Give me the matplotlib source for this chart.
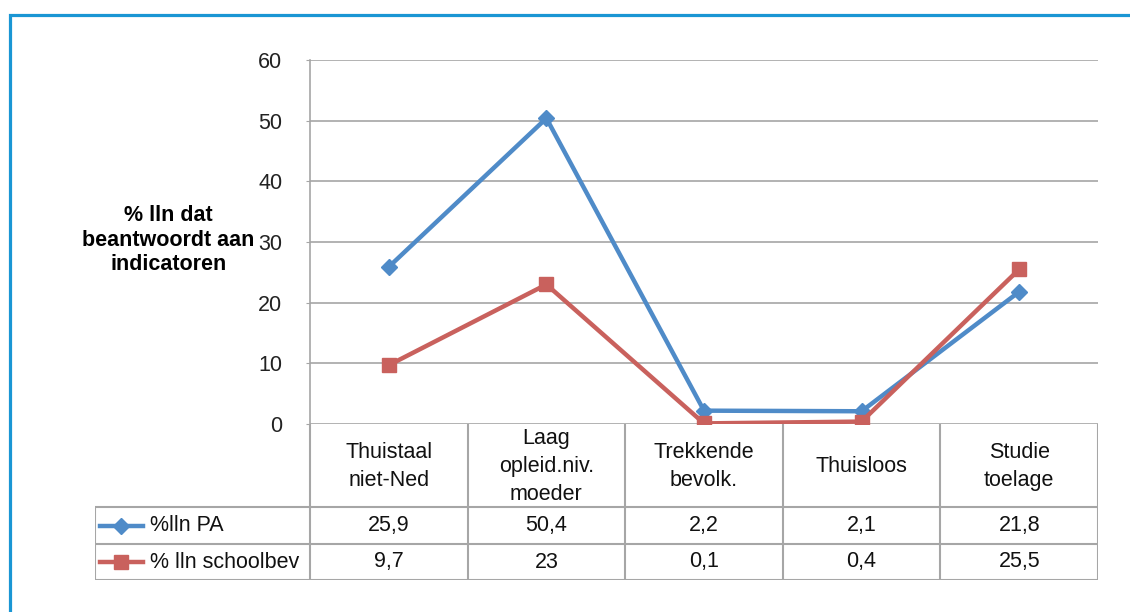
import matplotlib.pyplot as plt
from matplotlib.patches import Rectangle
from matplotlib.lines import Line2D

plt.rcParams['font.family'] = ['Liberation Sans', 'DejaVu Sans']

categories = ["Thuistaal\nniet-Ned", "Laag\nopleid.niv.\nmoeder", "Trekkende\nbevolk.",
              "Thuisloos", "Studie\ntoelage"]
series_names = ["%lln PA", "% lln schoolbev"]
pa_values = [25.9, 50.4, 2.2, 2.1, 21.8]
school_values = [9.7, 23, 0.1, 0.4, 25.5]
value_labels = [["25,9", "50,4", "2,2", "2,1", "21,8"],
                ["9,7", "23", "0,1", "0,4", "25,5"]]
y_ticks = [0, 10, 20, 30, 40, 50, 60]

W, H = 1130, 612
blue = '#4f8bc8'
red = '#c9615d'
grey = '#a6a6a6'
fs = 15.5


def px_axes(fig, left, top, right, bottom):
    return fig.add_axes([left / W, 1 - bottom / H, (right - left) / W, (bottom - top) / H])


fig = plt.figure(figsize=(W / 100, H / 100), dpi=100)

# frame of the slide
fig.patches.append(Rectangle((9.5 / W, -0.1), 1.2, 1 - 14.5 / H + 0.1, transform=fig.transFigure,
                             fill=False, edgecolor='#1a96d4', lw=2.3))

ax = px_axes(fig, 310, 60, 1098, 424)
x = list(range(len(categories)))
ax.plot(x, pa_values, color=blue, lw=3.2, marker='D', ms=8.5, zorder=3)
ax.plot(x, school_values, color=red, lw=3.2, marker='s', ms=10, zorder=4)
ax.set_xlim(-0.5, len(categories) - 0.5)
ax.set_ylim(0, 60)
ax.set_yticks(y_ticks)
ax.set_xticks([])
ax.yaxis.grid(True, color=grey, lw=1.2)
ax.set_axisbelow(True)
for s in ['top', 'right', 'bottom']:
    ax.spines[s].set_visible(False)
ax.spines['left'].set_color(grey)
ax.spines['left'].set_linewidth(1.2)
ax.tick_params(axis='y', length=3, color=grey, labelsize=fs, pad=17, labelcolor='#222222')
for lab in ax.get_yticklabels():
    lab.set_clip_on(False)
ax.text(-0.180, 0.505, "% lln dat\nbeantwoordt aan\nindicatoren", transform=ax.transAxes,
        ha='center', va='center', fontsize=fs, fontweight='bold', linespacing=1.22)

# data table below the plot
cat_px = 788 / len(categories)
tab = px_axes(fig, 95, 424, 1098, 580)
x0 = -0.5 - 215 / cat_px
tab.set_xlim(x0, len(categories) - 0.5)
tab.set_ylim(0, 156)
tab.axis('off')
row_bounds = [0, 36, 73]
head_y = 156
lk = dict(color=grey, lw=1.5, solid_capstyle='butt')
# header row verticals
for i in range(len(categories) + 1):
    tab.plot([i - 0.5, i - 0.5], [row_bounds[2], head_y], **lk)
# data row lines
for yb in row_bounds:
    tab.plot([x0, len(categories) - 0.5], [yb, yb], **lk)
for xv in [x0] + [i - 0.5 for i in range(len(categories) + 1)]:
    tab.plot([xv, xv], [0, row_bounds[2]], **lk)

for i, c in enumerate(categories):
    tab.text(i, (row_bounds[2] + head_y) / 2 - 1, c, ha='center', va='center', fontsize=fs,
             linespacing=1.42, color='#111111')

row_centers = [(row_bounds[1] + row_bounds[2]) / 2, (row_bounds[0] + row_bounds[1]) / 2]
colors = [blue, red]
markers = [('D', 8.5), ('s', 10)]
for r, (name, labels) in enumerate(zip(series_names, value_labels)):
    yc = row_centers[r]
    lx0 = x0 + 5 / cat_px
    lx1 = x0 + 48 / cat_px
    tab.add_line(Line2D([lx0, lx1], [yc, yc], color=colors[r], lw=3.2))
    tab.plot([(lx0 + lx1) / 2], [yc], marker=markers[r][0], ms=markers[r][1], color=colors[r])
    tab.text(x0 + 55 / cat_px, yc, name, ha='left', va='center', fontsize=fs, color='#111111')
    for i, lab in enumerate(labels):
        tab.text(i, yc, lab, ha='center', va='center', fontsize=fs, color='#111111')

fig.savefig('out.png', dpi=100)
